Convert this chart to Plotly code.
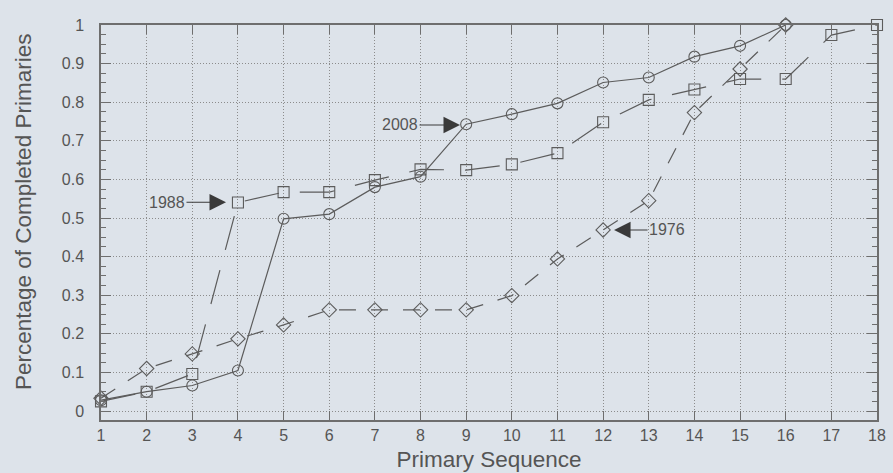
import plotly.graph_objects as go

# ---- data ----
x_seq = list(range(1, 19))
y2008 = [0.028, 0.05, 0.066, 0.105, 0.498, 0.51, 0.58, 0.607, 0.743, 0.769,
         0.797, 0.851, 0.864, 0.918, 0.946, 1.0]
y1988 = [0.025, 0.05, 0.096, 0.54, 0.567, 0.567, 0.598, 0.626, 0.624, 0.639,
         0.668, 0.748, 0.806, 0.833, 0.86, 0.86, 0.974, 1.0]
y1976 = [0.033, 0.11, 0.148, 0.187, 0.223, 0.262, 0.262, 0.262, 0.262, 0.299,
         0.394, 0.469, 0.545, 0.773, 0.886, 1.0]
y_tickvals = [0, 0.1, 0.2, 0.3, 0.4, 0.5, 0.6, 0.7, 0.8, 0.9, 1.0]
y_ticktext = ["0", "0.1", "0.2", "0.3", "0.4", "0.5", "0.6", "0.7", "0.8", "0.9", "1"]
x_tickvals = x_seq
x_ticktext = [str(v) for v in x_seq]

# ---- styles ----
BG = "#dde3ea"
LINE = "#5c5c5c"
TEXT = "#555555"
FONT = "Liberation Sans, Arial, sans-serif"

fig = go.Figure()

fig.add_trace(go.Scatter(
    x=x_seq[:len(y1976)], y=y1976, mode="lines+markers", name="1976",
    line=dict(color=LINE, width=1.2, dash="17px,15px"),
    marker=dict(symbol="diamond-open", size=11, color=LINE, line=dict(width=1.1)),
    cliponaxis=False, showlegend=False))
fig.add_trace(go.Scatter(
    x=x_seq[:len(y1988)], y=y1988, mode="lines+markers", name="1988",
    line=dict(color=LINE, width=1.2, dash="35px,21px"),
    marker=dict(symbol="square-open", size=11, color=LINE, line=dict(width=1.1)),
    cliponaxis=False, showlegend=False))
fig.add_trace(go.Scatter(
    x=x_seq[:len(y2008)], y=y2008, mode="lines+markers", name="2008",
    line=dict(color=LINE, width=1.2),
    marker=dict(symbol="circle-open", size=11, color=LINE, line=dict(width=1.1)),
    cliponaxis=False, showlegend=False))

ann_font = dict(family=FONT, size=16, color=TEXT)
arrow_kw = dict(showarrow=True, arrowhead=2, arrowsize=3.0, arrowwidth=1.1,
                arrowcolor="#3a3a3a", axref="pixel", ayref="pixel", standoff=0,
                font=ann_font, xref="x", yref="y")
fig.add_annotation(x=8.865, y=0.741, ax=-60, ay=0, text="2008", **arrow_kw)
fig.add_annotation(x=3.738, y=0.541, ax=-59, ay=0, text="1988", **arrow_kw)
fig.add_annotation(x=12.24, y=0.469, ax=53, ay=0, text="1976", **arrow_kw)

# y-axis title (placed as rotated text, slightly above the plot-area centre as in the original)
fig.add_annotation(text="Percentage of Completed Primaries", textangle=-90,
                   xref="paper", yref="paper", x=-0.099, y=0.527,
                   xanchor="center", yanchor="middle", showarrow=False,
                   font=dict(family=FONT, size=22.5, color=TEXT))

axis_common = dict(
    showline=True, linecolor="#6e6e6e", linewidth=1.5, mirror="allticks",
    ticks="inside", tickcolor="#6e6e6e", tickwidth=1.2,
    showgrid=True, gridcolor="#8c8c8c", gridwidth=1, griddash="1px,2px",
    zeroline=False, automargin=False,
    tickfont=dict(family=FONT, size=16, color=TEXT),
)

fig.update_xaxes(
    **axis_common,
    range=[1, 18], tickvals=x_tickvals, ticktext=x_ticktext, ticklen=9,
    title=dict(text="Primary Sequence", font=dict(family=FONT, size=22.5, color=TEXT), standoff=8),
)
fig.update_yaxes(
    **axis_common,
    range=[-0.0233, 1.0], tickvals=y_tickvals, ticktext=y_ticktext, ticklen=10,
    ticklabelstandoff=12,
    minor=dict(ticks="inside", ticklen=5, dtick=0.025, tick0=0, tickcolor="#6e6e6e",
               tickwidth=1.1, showgrid=False),
)

fig.update_layout(
    width=893, height=473,
    margin=dict(l=101, r=16, t=25, b=53, autoexpand=False),
    paper_bgcolor=BG, plot_bgcolor=BG,
    font=dict(family=FONT, color=TEXT),
)

fig.write_html(
    "out.html",
    config={"displayModeBar": False},
    post_script="document.body.style.margin='0';document.body.style.overflow='hidden';"
                "document.body.style.background='%s';" % BG,
)
